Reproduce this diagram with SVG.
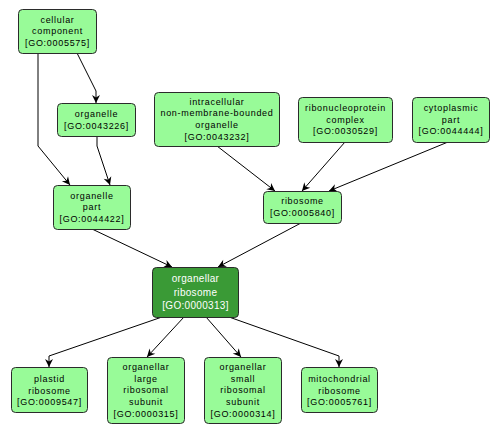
<svg xmlns="http://www.w3.org/2000/svg" width="501" height="433" viewBox="0 0 501 433">
<defs>
<style>
.n rect{fill:#98fb98;stroke:#2b2b2b;stroke-width:1}
.n text{font-family:"Liberation Sans",Arial,sans-serif;font-size:9px;letter-spacing:0.7px;fill:#000;text-anchor:middle}
.d rect{fill:#3a9a36;stroke:#2b2b2b;stroke-width:1}
.d text{font-family:"Liberation Sans",Arial,sans-serif;font-size:10px;letter-spacing:0.3px;fill:#fff;text-anchor:middle}
.e path{fill:none;stroke:#000;stroke-width:1;marker-end:url(#ah)}
</style>
<marker id="ah" markerUnits="userSpaceOnUse" markerWidth="10" markerHeight="10" viewBox="-9 -5 10 10" refX="0" refY="0" orient="auto">
<path d="M0,0 L-8,-4 L-5.5,0 L-8,4 Z" fill="#000"/>
</marker>
</defs>
<rect width="501" height="433" fill="#fff"/>
<g id="edges" class="e">
<path d="M77,53 L96,91 L96,103"/>
<path d="M38,53 L38,146 L70,185"/>
<path d="M97,136 L97,146 L110,185"/>
<path d="M92,229 L172,267"/>
<path d="M301,223 L218,267"/>
<path d="M217,146 L275,191"/>
<path d="M345,142 L302,191"/>
<path d="M448,142 L329,191"/>
<path d="M162,317 L49,356 L49,367"/>
<path d="M184,317 L147,357"/>
<path d="M206,317 L241,357"/>
<path d="M229,317 L339,356 L339,367"/>
</g>
<g id="GO0005575" class="n"><rect x="18.5" y="9.5" width="78" height="44" rx="4"/>
<text x="57.5" y="22.6">cellular</text><text x="57.5" y="34.2">component</text><text x="57.5" y="45.8">[GO:0005575]</text></g>
<g id="GO0043226" class="n"><rect x="57.5" y="103.5" width="78" height="33" rx="4"/>
<text x="96.5" y="116.9">organelle</text><text x="96.5" y="128.5">[GO:0043226]</text></g>
<g id="GO0044422" class="n"><rect x="53.5" y="185.5" width="77" height="44" rx="4"/>
<text x="92" y="198.6">organelle</text><text x="92" y="210.2">part</text><text x="92" y="221.8">[GO:0044422]</text></g>
<g id="GO0043232" class="n"><rect x="154.5" y="92.5" width="125" height="54" rx="4"/>
<text x="217" y="104.8">intracellular</text><text x="217" y="116.4">non-membrane-bounded</text><text x="217" y="128">organelle</text><text x="217" y="139.6">[GO:0043232]</text></g>
<g id="GO0030529" class="n"><rect x="298.5" y="97.5" width="94" height="45" rx="4"/>
<text x="345.5" y="111.1">ribonucleoprotein</text><text x="345.5" y="122.7">complex</text><text x="345.5" y="134.3">[GO:0030529]</text></g>
<g id="GO0044444" class="n"><rect x="412.5" y="97.5" width="77" height="45" rx="4"/>
<text x="451" y="111.1">cytoplasmic</text><text x="451" y="122.7">part</text><text x="451" y="134.3">[GO:0044444]</text></g>
<g id="GO0005840" class="n"><rect x="263.5" y="191.5" width="78" height="32" rx="4"/>
<text x="302.5" y="204.4">ribosome</text><text x="302.5" y="216">[GO:0005840]</text></g>
<g id="GO0000313" class="d"><rect x="152.5" y="267.5" width="86" height="50" rx="4"/>
<text x="195.5" y="281.9">organellar</text><text x="195.5" y="295.6">ribosome</text><text x="195.5" y="309.3">[GO:0000313]</text></g>
<g id="GO0009547" class="n"><rect x="11.5" y="367.5" width="76" height="45" rx="4"/>
<text x="49.5" y="382">plastid</text><text x="49.5" y="393.6">ribosome</text><text x="49.5" y="405.2">[GO:0009547]</text></g>
<g id="GO0000315" class="n"><rect x="107.5" y="357.5" width="77" height="66" rx="4"/>
<text x="146" y="370.2">organellar</text><text x="146" y="381.8">large</text><text x="146" y="393.4">ribosomal</text><text x="146" y="405">subunit</text><text x="146" y="416.6">[GO:0000315]</text></g>
<g id="GO0000314" class="n"><rect x="204.5" y="357.5" width="77" height="66" rx="4"/>
<text x="243" y="370.2">organellar</text><text x="243" y="381.8">small</text><text x="243" y="393.4">ribosomal</text><text x="243" y="405">subunit</text><text x="243" y="416.6">[GO:0000314]</text></g>
<g id="GO0005761" class="n"><rect x="301.5" y="367.5" width="76" height="45" rx="4"/>
<text x="339.5" y="382">mitochondrial</text><text x="339.5" y="393.6">ribosome</text><text x="339.5" y="405.2">[GO:0005761]</text></g>
</svg>
